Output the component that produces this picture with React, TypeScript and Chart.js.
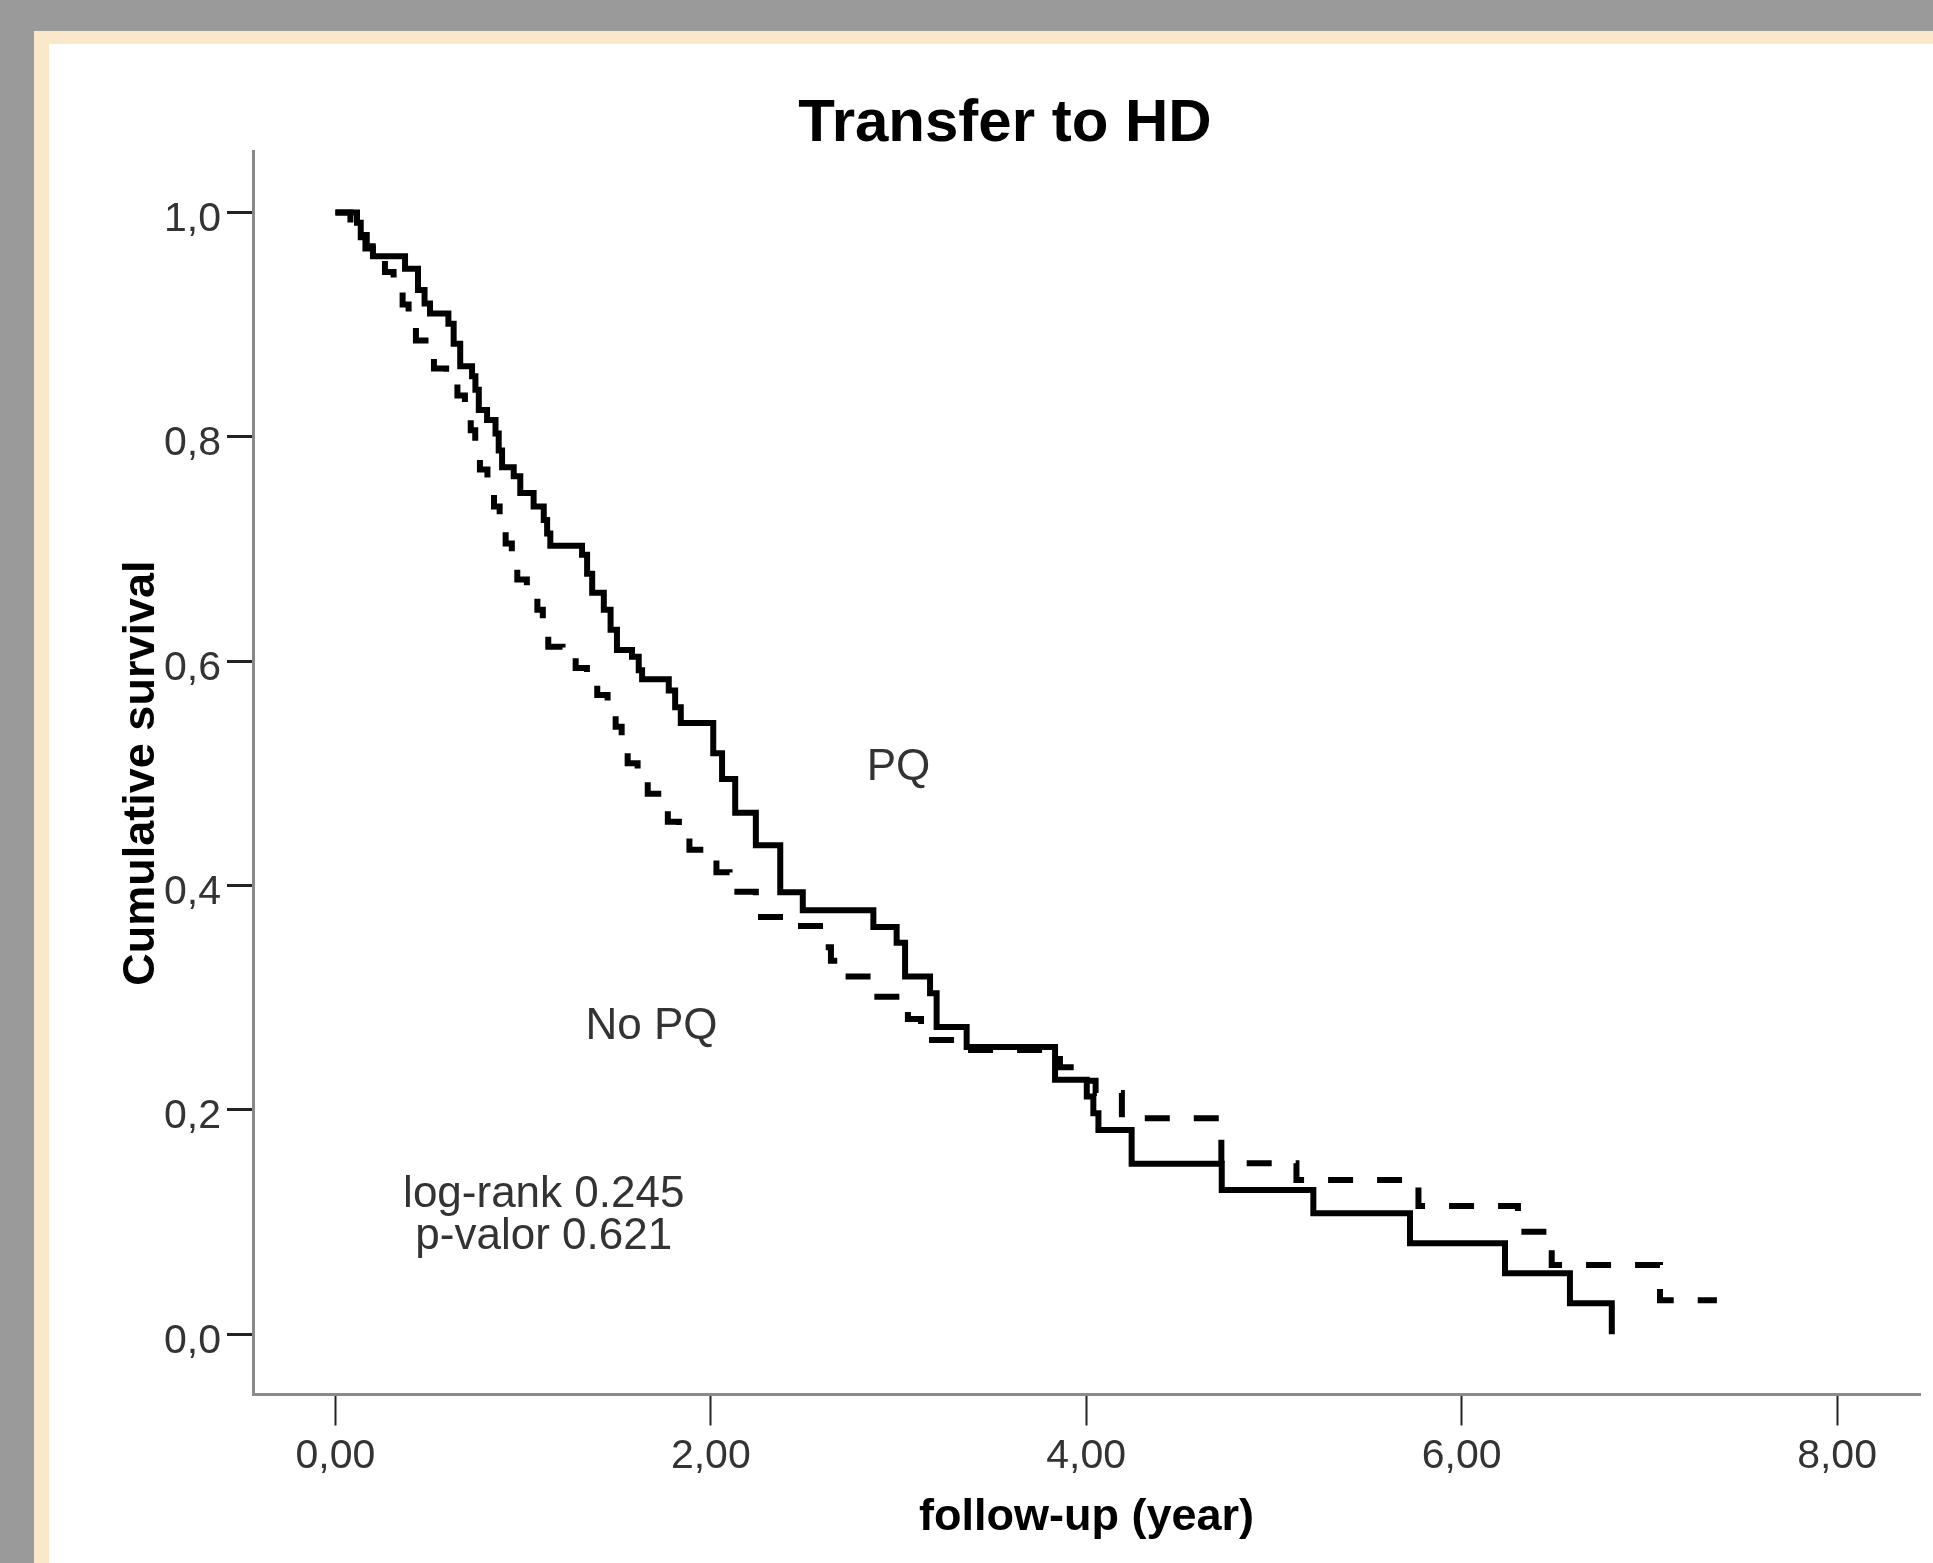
import React, { useEffect, useRef } from 'react';
import { Chart, registerables } from 'chart.js';

Chart.register(...registerables);

// ---- Data ----
const pqTimes = [
  0, 0.115, 0.135, 0.16, 0.2, 0.371, 0.44, 0.475, 0.504, 0.602, 0.63, 0.665, 0.728, 0.746, 0.764,
  0.808, 0.853, 0.87, 0.888, 0.95, 0.985, 1.056, 1.11, 1.128, 1.145, 1.314, 1.341, 1.368, 1.43,
  1.466, 1.5, 1.58, 1.616, 1.634, 1.776, 1.81, 1.84, 2.013, 2.06, 2.13, 2.24, 2.37, 2.49, 2.866,
  2.99, 3.035, 3.168, 3.203, 3.363, 3.834, 4.003, 4.038, 4.065, 4.242, 4.722, 5.21, 5.725, 6.231,
  6.577, 6.8,
];
const pqSurvival = [
  1.0, 0.991, 0.978, 0.968, 0.961, 0.95, 0.931, 0.919, 0.91, 0.901, 0.883, 0.863, 0.854, 0.842, 0.824,
  0.815, 0.803, 0.788, 0.773, 0.765, 0.75, 0.738, 0.726, 0.714, 0.703, 0.695, 0.678, 0.661, 0.646,
  0.628, 0.61, 0.604, 0.592, 0.584, 0.574, 0.559, 0.545, 0.518, 0.495, 0.465, 0.436, 0.394, 0.378, 0.363,
  0.349, 0.319, 0.304, 0.274, 0.256, 0.227, 0.212, 0.197, 0.182, 0.152, 0.1286, 0.108, 0.0811, 0.0544,
  0.0276, 0.0,
];

const noPqTimes = [
  0, 0.08, 0.12, 0.167, 0.22, 0.264, 0.31, 0.358, 0.39, 0.429, 0.48, 0.525, 0.59, 0.65, 0.69, 0.721,
  0.745, 0.77, 0.81, 0.845, 0.875, 0.907, 0.94, 0.969, 1.02, 1.076, 1.105, 1.134, 1.21, 1.28, 1.34,
  1.395, 1.45, 1.493, 1.525, 1.557, 1.61, 1.664, 1.72, 1.771, 1.83, 1.886, 2.03, 2.1, 2.24, 2.43,
  2.6, 2.64, 2.7, 2.87, 3.05, 3.12, 3.32, 3.86, 3.95, 4.05, 4.19, 4.72, 5.12, 5.77, 6.3, 6.48,
  7.057, 7.36,
];
const noPqSurvival = [
  1.0, 0.99, 0.98, 0.97, 0.958, 0.947, 0.932, 0.918, 0.902, 0.886, 0.873, 0.861, 0.849, 0.837, 0.822, 0.806,
  0.789, 0.771, 0.755, 0.738, 0.722, 0.705, 0.689, 0.673, 0.66, 0.646, 0.63, 0.613, 0.604, 0.594, 0.582,
  0.57, 0.556, 0.5417, 0.525, 0.509, 0.495, 0.482, 0.47, 0.457, 0.445, 0.432, 0.412, 0.3946, 0.372, 0.364,
  0.345, 0.333, 0.319, 0.301, 0.281, 0.2624, 0.2535, 0.238, 0.226, 0.215, 0.1926, 0.1524, 0.1376, 0.1144, 0.0915, 0.0618,
  0.0303, 0.0303,
];

const seriesNames = ['PQ', 'No PQ'];
const statLines = ['log-rank 0.245', 'p-valor 0.621'];

const xTickValues = [0, 2, 4, 6, 8];
const xTickLabels = ['0,00', '2,00', '4,00', '6,00', '8,00'];
const yTickValues = [0, 0.2, 0.4, 0.6, 0.8, 1.0];
const yTickLabels = ['0,0', '0,2', '0,4', '0,6', '0,8', '1,0'];

const titleText = 'Transfer to HD';
const xTitle = 'follow-up (year)';
const yTitle = 'Cumulative survival';

// annotation anchors in data units (x = years, y = survival)
const labelAnchorsX = [3.0, 1.684, 1.11, 1.11];
const labelAnchorsY = [0.494, 0.263, 0.1135, 0.0762];

const FONT = "'Liberation Sans', Arial, Helvetica, sans-serif";
const W = 1933;
const H = 1563;

const annotationPlugin = {
  id: 'kmAnnotations',
  afterDatasetsDraw(chart: any) {
    const { ctx, scales } = chart;
    const texts = [seriesNames[0], seriesNames[1], statLines[0], statLines[1]];
    ctx.save();
    ctx.font = `44px ${FONT}`;
    ctx.fillStyle = '#333333';
    ctx.textAlign = 'center';
    ctx.textBaseline = 'alphabetic';
    texts.forEach((t, i) => {
      const px = scales.x.getPixelForValue(labelAnchorsX[i]);
      const py = scales.y.getPixelForValue(labelAnchorsY[i]);
      ctx.fillText(t, px, py);
    });
    ctx.restore();
  },
};

export default function App() {
  const canvasRef = useRef<HTMLCanvasElement | null>(null);

  useEffect(() => {
    if (!canvasRef.current) return;
    const toPoints = (xs: number[], ys: number[]) => xs.map((x, i) => ({ x, y: ys[i] }));
    const chart = new Chart(canvasRef.current, {
      type: 'line',
      data: {
        datasets: [
          {
            label: seriesNames[0],
            data: toPoints(pqTimes, pqSurvival),
            borderColor: '#000000',
            borderWidth: 6,
            stepped: 'before',
            pointRadius: 0,
            fill: false,
            borderJoinStyle: 'miter',
            borderCapStyle: 'butt',
          },
          {
            label: seriesNames[1],
            data: toPoints(noPqTimes, noPqSurvival),
            borderColor: '#000000',
            borderWidth: 6,
            borderDash: [25, 24],
            stepped: 'before',
            pointRadius: 0,
            fill: false,
            borderJoinStyle: 'miter',
            borderCapStyle: 'butt',
          },
        ],
      },
      options: {
        animation: false,
        responsive: false,
        maintainAspectRatio: false,
        devicePixelRatio: 1,
        layout: { padding: { left: 90, right: 13, top: 97.2, bottom: 18 } },
        plugins: {
          legend: { display: false },
          tooltip: { enabled: false },
          title: {
            display: true,
            text: titleText,
            color: '#000000',
            font: { family: FONT, size: 60, weight: 'bold', lineHeight: 0.9 },
            padding: { top: 0, bottom: 0.5 },
          },
        },
        scales: {
          x: {
            type: 'linear',
            min: -0.439,
            max: 8.442,
            afterBuildTicks: (scale: any) => {
              scale.ticks = xTickValues.map((v) => ({ value: v }));
            },
            afterFit: (scale: any) => {
              scale.height = 150.5;
            },
            ticks: {
              callback: (_v: any, i: number) => xTickLabels[i],
              font: { family: FONT, size: 41 },
              color: '#333333',
              padding: 7,
              maxRotation: 0,
              autoSkip: false,
            },
            grid: {
              display: true,
              drawOnChartArea: false,
              drawTicks: true,
              tickLength: 31,
              tickWidth: 2,
              tickColor: '#222222',
            },
            border: { display: true, color: '#8a8a8a', width: 3 },
            title: {
              display: true,
              text: xTitle,
              color: '#000000',
              font: { family: FONT, size: 45, weight: 'bold', lineHeight: 1.2 },
              padding: { top: 0, bottom: 0 },
            },
          },
          y: {
            type: 'linear',
            min: -0.0537,
            max: 1.0543,
            afterBuildTicks: (scale: any) => {
              scale.ticks = yTickValues.map((v) => ({ value: v }));
            },
            afterFit: (scale: any) => {
              scale.width = 163;
            },
            ticks: {
              callback: (_v: any, i: number) => yTickLabels[i],
              font: { family: FONT, size: 41 },
              color: '#333333',
              padding: 6,
              labelOffset: 7,
              autoSkip: false,
            },
            grid: {
              display: true,
              drawOnChartArea: false,
              drawTicks: true,
              tickLength: 26,
              tickWidth: 3,
              tickColor: '#222222',
            },
            border: { display: true, color: '#8a8a8a', width: 3 },
            title: {
              display: true,
              text: yTitle,
              color: '#000000',
              font: { family: FONT, size: 45, weight: 'bold', lineHeight: 1.2 },
              padding: { top: 25, bottom: 0 },
            },
          },
        },
      },
      plugins: [annotationPlugin],
    } as any);
    return () => chart.destroy();
  }, []);

  return (
    <div
      style={{
        position: 'absolute',
        left: 0,
        top: 0,
        width: W,
        height: H,
        overflow: 'hidden',
        background: '#9a9a9a',
      }}
    >
      <div
        style={{
          position: 'absolute',
          left: 34,
          top: 31,
          right: 0,
          bottom: 0,
          background: '#fae8cb',
        }}
      />
      <div
        style={{
          position: 'absolute',
          left: 49,
          top: 44,
          right: 0,
          bottom: 0,
          background: '#ffffff',
        }}
      />
      <canvas
        ref={canvasRef}
        width={W}
        height={H}
        style={{ position: 'absolute', left: 0, top: 0, width: W, height: H }}
      />
    </div>
  );
}
